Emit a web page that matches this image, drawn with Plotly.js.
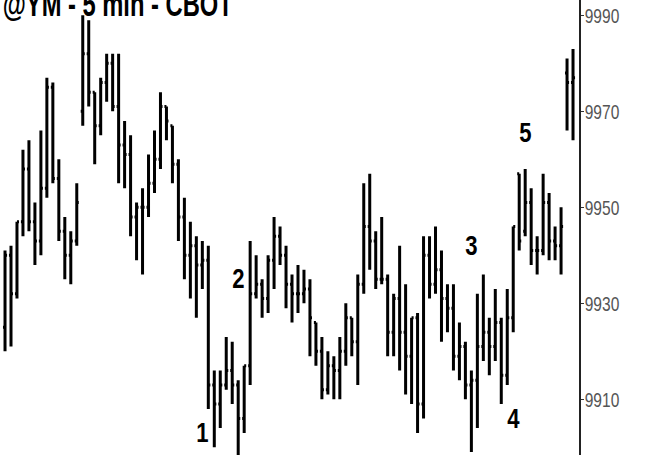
<!DOCTYPE html>
<html>
<head>
<meta charset="utf-8">
<script src="https://cdn.plot.ly/plotly-3.0.1.min.js"></script>
<style>html,body{margin:0;padding:0;background:#fff;}#chart{width:649px;height:455px;}</style>
</head>
<body>
<div id="chart"></div>
<script>
// @YM 5-minute bars (CBOT)
const opens = [9925,9940,9932,9947,9958,9947,9943,9954,9975,9956,9945,9940,9943,9970,9982,9974,
  9967,9976,9980,9971,9963,9961,9948,9950,9950,9955,9960,9971,9967,9959,9948,9940,
  9942,9938,9939,9913,9909,9913,9916,9913,9906,9917,9932,9934,9931,9939,9944,9940,
  9934,9932,9932,9933,9926,9920,9912,9917,9916,9920,9927,9922,9934,9946,9943,9935,
  9935,9924,9931,9924,9919,9927,9909,9940,9934,9937,9931,9929,9919,9921,9913,9914,
  9921,9924,9921,9926,9915,9927,9957,9945,9951,9941,9941,9951,9943,9942,9978,9976];
const highs = [9941,9942,9947,9962,9964,9951,9966,9977,9976,9960,9948,9945,9955,9990,9989,9974,
  9977,9982,9982,9982,9968,9965,9951,9954,9961,9966,9974,9971,9967,9960,9952,9947,
  9944,9943,9942,9916,9916,9923,9922,9914,9917,9943,9940,9935,9940,9948,9946,9942,
  9936,9938,9937,9935,9926,9923,9920,9919,9923,9930,9927,9936,9955,9957,9945,9948,
  9936,9932,9942,9934,9927,9928,9944,9944,9946,9941,9934,9934,9926,9922,9916,9932,
  9936,9927,9933,9927,9933,9946,9957,9958,9954,9944,9957,9953,9946,9950,9981,9983];
const lows = [9920,9921,9931,9944,9945,9938,9940,9952,9955,9943,9935,9934,9942,9967,9971,9959,
  9965,9972,9970,9955,9954,9944,9939,9936,9948,9953,9958,9964,9955,9943,9935,9931,
  9927,9933,9908,9900,9904,9912,9909,9898,9903,9913,9931,9927,9928,9933,9938,9929,
  9926,9928,9930,9919,9917,9910,9911,9910,9910,9917,9919,9913,9932,9937,9933,9934,
  9919,9919,9916,9911,9909,9903,9906,9931,9932,9922,9924,9916,9914,9910,9899,9904,
  9918,9915,9918,9909,9913,9924,9941,9944,9938,9936,9940,9939,9939,9936,9966,9964];
const closes = [9940,9932,9947,9958,9947,9943,9954,9975,9956,9945,9940,9943,9951,9982,9974,9967,
  9976,9980,9971,9963,9961,9948,9950,9950,9955,9960,9971,9968,9959,9948,9940,9942,
  9938,9939,9913,9909,9913,9916,9913,9906,9917,9932,9934,9931,9939,9944,9940,9934,
  9932,9932,9933,9927,9920,9912,9917,9916,9920,9927,9922,9934,9946,9943,9935,9935,
  9924,9931,9924,9919,9927,9909,9940,9934,9937,9931,9929,9919,9921,9913,9914,9921,
  9924,9921,9926,9915,9927,9946,9943,9951,9941,9941,9951,9943,9942,9946,9976,9977];
const yTicks = [9910, 9930, 9950, 9970, 9990];
const titleText = "@YM - 5 min - CBOT";
// wave labels: text, bar index, price level
const waveLabels = ["1", "2", "3", "4", "5"];
const waveBars = [33.1, 39.0, 78.1, 85.0, 87.0];
const wavePrices = [9903, 9935, 9942, 9906, 9965.5];

const xIdx = highs.map((_, i) => i);
const font = "Arial, 'Liberation Sans', sans-serif";

const trace = {
  type: 'ohlc',
  x: xIdx, open: opens, high: highs, low: lows, close: closes,
  increasing: {line: {color: '#000', width: 3}},
  decreasing: {line: {color: '#000', width: 3}},
  tickwidth: 0.34,
  hoverinfo: 'skip'
};

const annotations = waveLabels.map((t, i) => ({
  x: waveBars[i], y: wavePrices[i], xref: 'x', yref: 'y', text: '<b>' + t + '</b>',
  showarrow: false, font: {family: font, size: 27, color: '#000'}
}));
annotations.push({
  x: 117 / 579, y: 1, xref: 'paper', yref: 'paper', xanchor: 'center', yanchor: 'middle',
  yshift: -3, text: '<b>' + titleText + '</b>', showarrow: false,
  font: {family: font, size: 35, color: '#000'}
});

const layout = {
  width: 649, height: 455,
  margin: {l: 0, r: 70, t: 0, b: 0, pad: 0},
  paper_bgcolor: '#fff', plot_bgcolor: '#fff',
  showlegend: false,
  xaxis: {range: [-0.84, 96.0], visible: false, rangeslider: {visible: false}, fixedrange: true},
  yaxis: {
    side: 'right', range: [9898.4, 9993.2], tickvals: yTicks, ticktext: yTicks.map(String),
    ticks: 'outside', ticklen: 3, tickwidth: 1, tickcolor: '#333',
    showline: true, linecolor: '#222', linewidth: 1.5, mirror: false,
    showgrid: false, zeroline: false,
    tickfont: {family: font, size: 21, color: '#555'}
  },
  annotations: annotations
};

function squeeze(el, factor) {
  const w = el.getComputedTextLength();
  el.setAttribute('textLength', (w * factor).toFixed(1));
  el.setAttribute('lengthAdjust', 'spacingAndGlyphs');
}

Plotly.newPlot('chart', [trace], layout, {staticPlot: true, displayModeBar: false}).then(gd => {
  // the reference's type is horizontally condensed
  gd.querySelectorAll('.ytick text').forEach(t => {
    squeeze(t, 0.74);
    const x = parseFloat(t.getAttribute('x') || '0');
    t.setAttribute('x', (x - 3).toFixed(1));
  });
  const ann = gd.querySelectorAll('.annotation-text');
  ann.forEach((t, i) => {
    if (i < waveLabels.length) squeeze(t, 0.82);
    else {
      t.setAttribute('textLength', '230');
      t.setAttribute('lengthAdjust', 'spacingAndGlyphs');
    }
  });
});
</script>
</body>
</html>
